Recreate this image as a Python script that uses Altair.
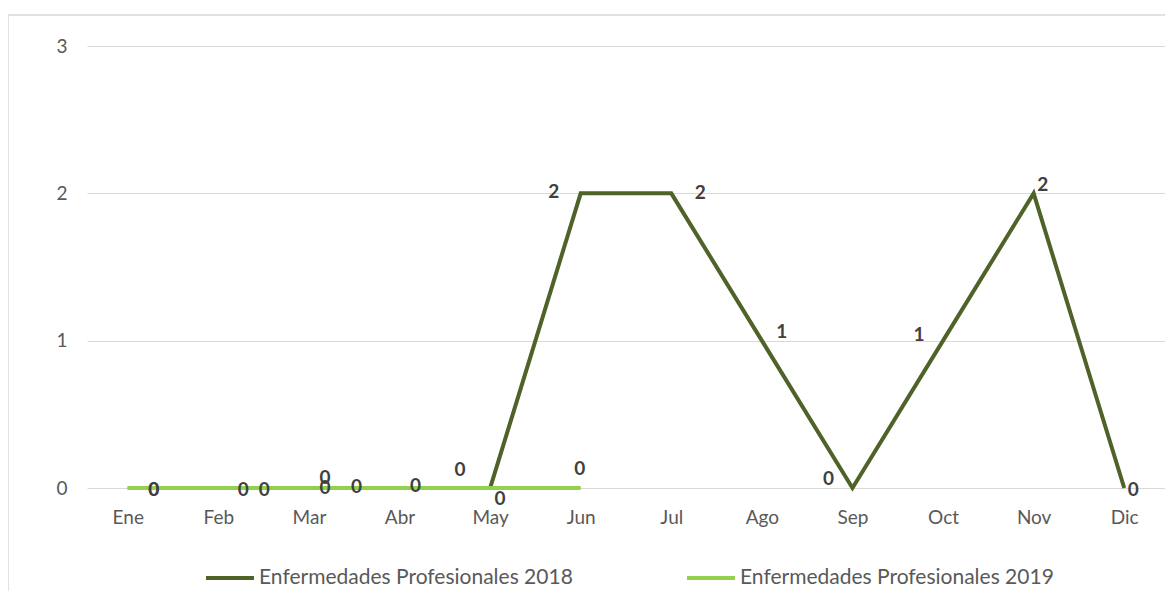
import altair as alt
import pandas as pd

months = ["Ene", "Feb", "Mar", "Abr", "May", "Jun", "Jul", "Ago", "Sep", "Oct", "Nov", "Dic"]
series_names = ["Enfermedades Profesionales 2018", "Enfermedades Profesionales 2019"]
values_2018 = [0, 0, 0, 0, 0, 2, 2, 1, 0, 1, 2, 0]
values_2019 = [0, 0, 0, 0, 0, 0]

# label offsets (pixels, relative to each point) as placed in the original chart
label_dx_2018 = [26, 25, 16, -43, 10, -27, 29, 20, -24, -24, 9, 9]
label_dy_2018 = [2, 2, -10, -1, 11, -1, 0, -9, -9, -6, -8, 2]
label_dx_2019 = [26, 46, 16, 16, -30, -1]
label_dy_2019 = [2, 2, 0, -2, -18, -19]

colors = ["#4f6228", "#92d050"]
FONT = "Lato"

W, H = 1078, 442
PX_PER_UNIT = H / 3.0

rows = []
for i, v in enumerate(values_2018):
    rows.append({"mes": months[i], "serie": series_names[0], "valor": v,
                 "dx": label_dx_2018[i], "dy": label_dy_2018[i]})
for i, v in enumerate(values_2019):
    rows.append({"mes": months[i], "serie": series_names[1], "valor": v,
                 "dx": label_dx_2019[i], "dy": label_dy_2019[i]})
df = pd.DataFrame(rows)

x = alt.X("mes:N", sort=months, title=None,
          scale=alt.Scale(type="point", padding=0.45),
          axis=alt.Axis(labelAngle=0, ticks=False, domain=False, grid=False,
                        labelPadding=20, labelFontSize=19, labelColor="#595959",
                        labelFont=FONT))
y = alt.Y("valor:Q", title=None,
          scale=alt.Scale(domain=[0, 3], nice=False),
          axis=alt.Axis(values=[0, 1, 2, 3], format="d", ticks=False, domain=False,
                        gridColor="#d9d9d9", gridWidth=1, labelPadding=20,
                        labelFontSize=19, labelColor="#595959", labelFont=FONT))
color = alt.Color("serie:N", scale=alt.Scale(domain=series_names, range=colors),
                  legend=alt.Legend(title=None, orient="none", direction="horizontal",
                                    legendX=117, legendY=506,
                                    symbolType="stroke", symbolSize=2304,
                                    symbolStrokeWidth=4, labelOffset=3,
                                    columnPadding=106, labelFontSize=21,
                                    labelColor="#595959", labelFont=FONT,
                                    labelLimit=600))

base = alt.Chart(df)

frame = alt.Chart(pd.DataFrame({"k": [0]})).mark_rect(
    fill=None, stroke="#d9d9d9", strokeWidth=1.5
).encode(x=alt.value(-79), x2=alt.value(W + 200), y=alt.value(-31), y2=alt.value(H + 300))

line18 = base.transform_filter(alt.datum.serie == series_names[0]).mark_line(
    strokeWidth=4).encode(x=x, y=y, color=color)
line19 = base.transform_filter(alt.datum.serie == series_names[1]).mark_line(
    strokeWidth=4).encode(x=x, y=y, color=color)

labels = base.transform_calculate(
    ylab=f"datum.valor - datum.dy / {PX_PER_UNIT}"
).mark_text(fontWeight="bold", fontSize=19, color="#404040", font=FONT,
            align="center", baseline="middle").encode(
    x=alt.X("mes:N", sort=months),
    y=alt.Y("ylab:Q"),
    xOffset=alt.XOffset("dx:Q", scale=None),
    text=alt.Text("valor:Q"),
)

chart = alt.layer(frame, line18, line19, labels).properties(
    width=W, height=H,
    autosize=alt.AutoSizeParams(type="none"),
    padding={"left": 79, "top": 38, "right": 0, "bottom": 103},
).configure(background="white").configure_view(stroke=None)

chart.save("out.html", embed_options={"renderer": "svg", "actions": False})
